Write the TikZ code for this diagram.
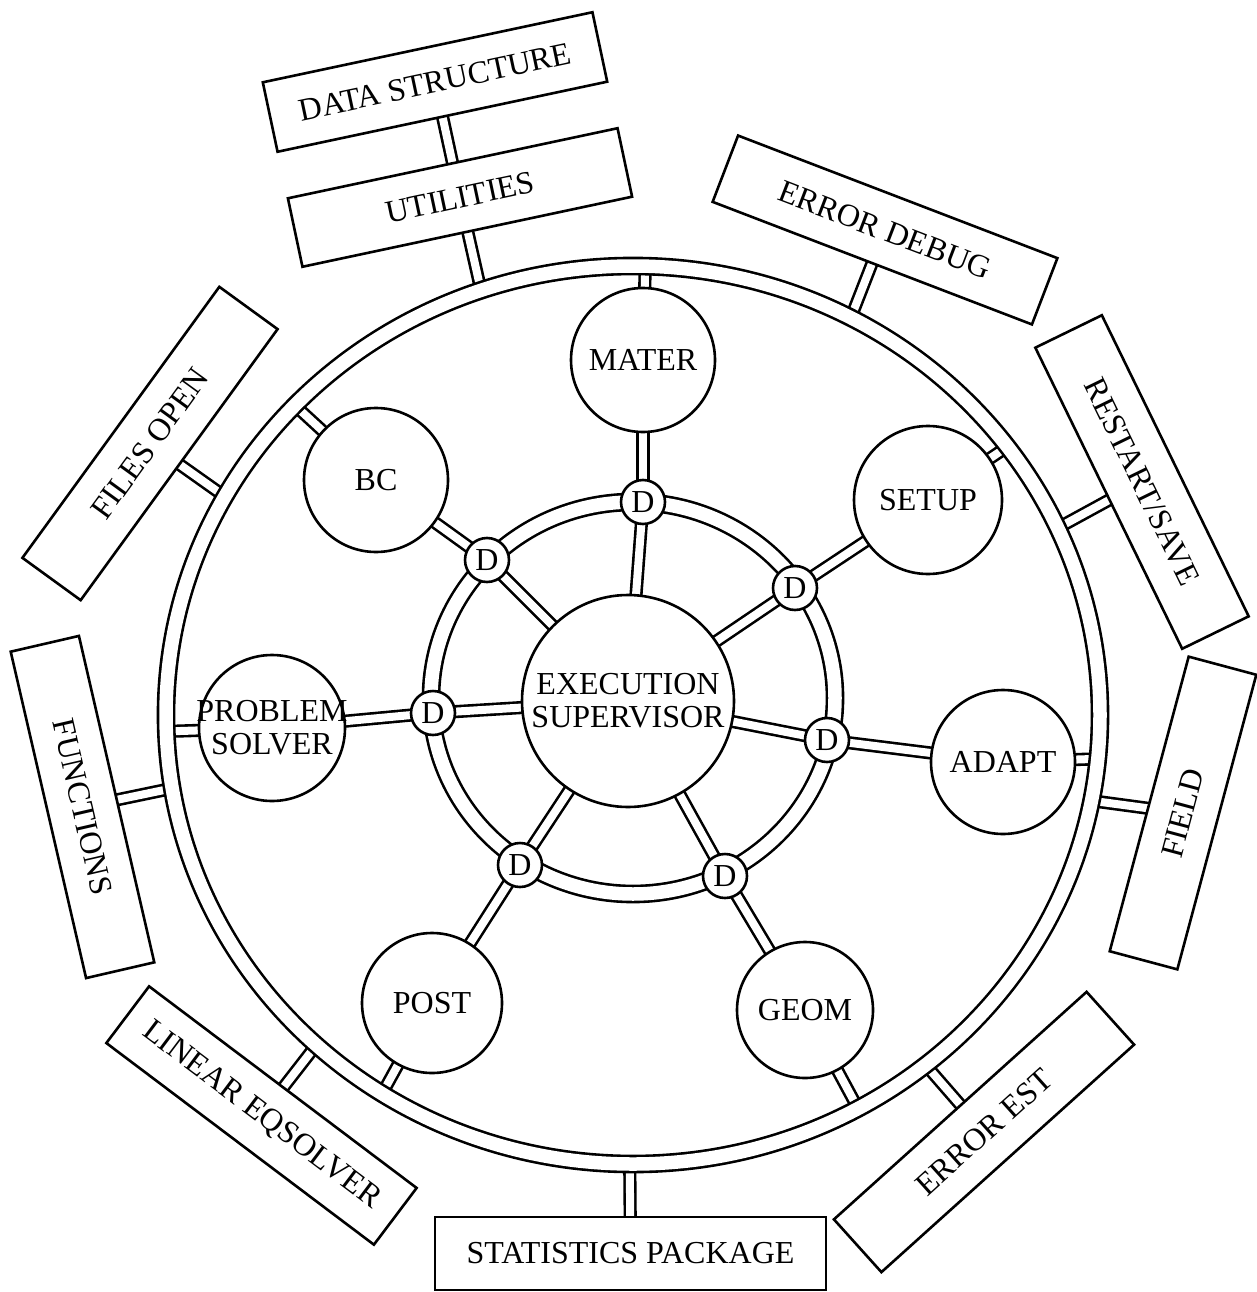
\documentclass[tikz,border=0pt]{standalone}
\usepackage{fontspec}
\setmainfont{Liberation Serif}
\usetikzlibrary{calc}
\pgfdeclarelayer{back}
\pgfdeclarelayer{bg}
\pgfdeclarelayer{mid}
\pgfsetlayers{back,bg,mid,main}
\begin{document}
\begin{tikzpicture}[x=1pt,y=1pt,line width=2.6pt,
  every node/.style={font=\fontsize{32}{33}\selectfont},
  circ/.style={circle,draw,line width=2.6pt,fill=white,inner sep=0pt,align=center},
  dnode/.style={circ,minimum size=44pt},
  box/.style={rectangle,draw,line width=2.6pt,fill=white,inner sep=0pt,align=center},
  conn/.style={draw,double=white,double distance=8pt,line width=2.6pt},
  ring/.style={draw,double=white,double distance=13.5pt,line width=2.6pt}]
\begin{pgfonlayer}{back}
  \fill[white] (0,0) rectangle (1256,-1292);
\end{pgfonlayer}
\useasboundingbox (0,0) rectangle (1256,-1292);

% ring centres
\coordinate (OC) at (633,-715);
\coordinate (IC) at (633,-698);

% circles
\node[circ,minimum size=212pt] (ES) at (628,-701) {EXECUTION\\SUPERVISOR};
\node[circ,minimum size=144pt] (MATER) at (643,-360) {MATER};
\node[circ,minimum size=144pt] (BC) at (376,-480) {BC};
\node[circ,minimum size=148pt] (SETUP) at (928,-500) {SETUP};
\node[circ,minimum size=146pt] (PS) at (272,-728) {};
\node[align=center] (PStext) at (PS) {PROBLEM\\SOLVER};
\node[circ,minimum size=144pt] (ADAPT) at (1003,-762) {ADAPT};
\node[circ,minimum size=140pt] (POST) at (432,-1003) {POST};
\node[circ,minimum size=136pt] (GEOM) at (805,-1010) {GEOM};

% D circles
\node[dnode] (D1) at (643,-502) {D};
\node[dnode] (D2) at (487,-560) {D};
\node[dnode] (D3) at (795,-588) {D};
\node[dnode] (D4) at (433,-713) {D};
\node[dnode] (D5) at (827,-740) {D};
\node[dnode] (D6) at (520,-865) {D};
\node[dnode] (D7) at (725,-876) {D};

% boxes
\node[box,minimum width=337pt,minimum height=71pt,rotate=12] (DS) at (435,-82) {DATA STRUCTURE};
\node[box,minimum width=337pt,minimum height=70pt,rotate=12] (UT) at (460,-197.5) {UTILITIES};
\node[box,minimum width=342pt,minimum height=71pt,rotate=-21] (ED) at (885,-230) {ERROR DEBUG};
\node[box,minimum width=335pt,minimum height=74pt,rotate=-64] (RS) at (1142,-482) {RESTART/SAVE};
\node[box,minimum width=305pt,minimum height=70pt,rotate=75] (FI) at (1183,-813) {FIELD};
\node[box,minimum width=335pt,minimum height=70pt,rotate=-77] (FU) at (82.5,-807) {FUNCTIONS};
\node[box,minimum width=335pt,minimum height=72pt,rotate=54] (FO) at (150,-443.5) {FILES OPEN};
\node[box,minimum width=335pt,minimum height=71pt,rotate=-37] (LE) at (261.5,-1115.5) {LINEAR EQSOLVER};
\node[box,minimum width=391pt,minimum height=73pt] (SP) at (630.5,-1253.5) {STATISTICS PACKAGE};
\node[box,minimum width=340pt,minimum height=71pt,rotate=42] (EE) at (984,-1132) {ERROR EST};

% points on the outer ring (mid line)
\coordinate (rMATER) at ($(OC)+(88.5:467 and 449)$);
\coordinate (rBC) at ($(OC)+(136.4:467 and 449)$);
\coordinate (rSETUP) at ($(OC)+(36.7:467 and 449)$);
\coordinate (rPS) at ($(OC)+(-177.9:467 and 449)$);
\coordinate (rADAPT) at ($(OC)+(-5.6:467 and 449)$);
\coordinate (rPOST) at ($(OC)+(-122.5:467 and 449)$);
\coordinate (rGEOM) at ($(OC)+(-61.2:467 and 449)$);
\coordinate (rUT) at ($(OC)+(109:467 and 449)$);
\coordinate (rED) at ($(OC)+(62.2:467 and 449)$);
\coordinate (rRS) at ($(OC)+(24.6:467 and 449)$);
\coordinate (rFI) at ($(OC)+(-11:467 and 449)$);
\coordinate (rEE) at ($(OC)+(-51.2:467 and 449)$);
\coordinate (rSP) at ($(OC)+(-90.4:467 and 449)$);
\coordinate (rLE) at ($(OC)+(-132.7:467 and 449)$);
\coordinate (rFU) at ($(OC)+(-170.6:467 and 449)$);
\coordinate (rFO) at ($(OC)+(150.9:467 and 449)$);

\begin{pgfonlayer}{bg}
  % supervisor to D nodes
  \foreach \d in {D1,D2,D3,D4,D5,D6,D7}
    \draw[conn] (ES.center) -- (\d.center);
  % D nodes to modules
  \draw[conn] (D1.center) -- (MATER.center);
  \draw[conn] (D2.center) -- (BC.center);
  \draw[conn] (D3.center) -- (SETUP.center);
  \draw[conn] (D4.center) -- (PS.center);
  \draw[conn] (D5.center) -- (ADAPT.center);
  \draw[conn] (D6.center) -- (POST.center);
  \draw[conn] (D7.center) -- (GEOM.center);
  % modules to outer ring
  \draw[conn] (MATER.center) -- (rMATER);
  \draw[conn] (BC.center) -- (rBC);
  \draw[conn] (SETUP.center) -- (rSETUP);
  \draw[conn] (PS.center) -- (rPS);
  \draw[conn] (ADAPT.center) -- (rADAPT);
  \draw[conn] (POST.center) -- (rPOST);
  \draw[conn] (GEOM.center) -- (rGEOM);
  % outer ring to service boxes
  \draw[conn] (rUT) -- (UT.center);
  \draw[conn] (UT.center) -- (DS.center);
  \draw[conn] (rED) -- (ED.center);
  \draw[conn] (rRS) -- (RS.center);
  \draw[conn] (rFI) -- (FI.center);
  \draw[conn] (rEE) -- (EE.center);
  \draw[conn] (rSP) -- (SP.center);
  \draw[conn] (rLE) -- (LE.center);
  \draw[conn] (rFU) -- (FU.center);
  \draw[conn] (rFO) -- (FO.center);
\end{pgfonlayer}

\begin{pgfonlayer}{mid}
  \draw[ring] (OC) ellipse [x radius=467pt, y radius=449pt];
  \draw[ring] (IC) ellipse [x radius=202pt, y radius=196pt];
\end{pgfonlayer}
\end{tikzpicture}
\end{document}
